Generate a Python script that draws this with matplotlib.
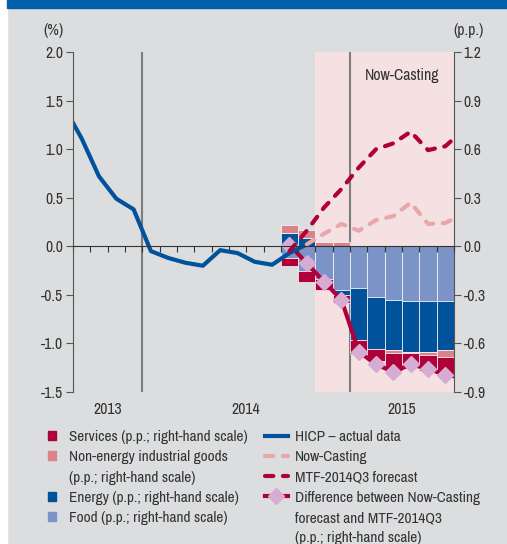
import numpy as np
import matplotlib
matplotlib.use('Agg')  # no display in the sandbox
import matplotlib.pyplot as plt
import matplotlib.transforms as mtransforms
from matplotlib.patches import Rectangle, Patch
from matplotlib.lines import Line2D

plt.rcParams['font.family'] = ['Archivo Narrow', 'Liberation Sans', 'DejaVu Sans']
plt.rcParams['font.size'] = 11.3

# ============================================
# DATA (month index 0 = Sep 2013 ... 21 = Jun 2015)
# ============================================

n_months = 22
year_labels = ['2013', '2014', '2015']
year_centres = [2, 10, 19]
year_breaks = [4, 16]
nowcast_start = 14  # Nov 2014

# HICP actual data (%), Aug 2013 - Oct 2014
hicp_x = np.arange(-1, 14) + 0.5
hicp = [1.43, 1.11, 0.72, 0.49, 0.38, -0.05, -0.12, -0.17, -0.20,
        -0.04, -0.07, -0.16, -0.19, -0.07, 0.02]

# Now-Casting (%), Oct 2014 - Jul 2015
nc_x = np.arange(13, 23) + 0.5
nowcast = [0.02, 0.13, 0.23, 0.16, 0.27, 0.31, 0.45, 0.23, 0.24, 0.33]

# MTF-2014Q3 forecast (%), Sep 2014 - Jul 2015
mtf_x = np.arange(12, 23) + 0.5
mtf = [-0.05, 0.16, 0.40, 0.59, 0.81, 1.00, 1.06, 1.18, 0.99, 1.03, 1.19]

# difference Now-Casting vs MTF (p.p.), Sep 2014 - Jul 2015
diff_x = np.arange(12, 23) + 0.5
diff = [0.01, -0.105, -0.22, -0.33, -0.65, -0.73, -0.775, -0.73,
        -0.755, -0.795, -0.81]

# contributions (p.p.), Sep 2014 - Jun 2015
bar_x = np.arange(12, 22)
food = [-0.075, -0.153, -0.20, -0.272, -0.259, -0.315, -0.334, -0.340, -0.340, -0.340]
energy = [0.084, 0.054, 0.0, -0.031, -0.321, -0.319, -0.309, -0.311, -0.313, -0.302]
neig = [0.045, 0.047, 0.029, 0.025, 0.008, 0.0, -0.019, -0.010, -0.016, -0.039]
services = [-0.048, -0.068, -0.067, -0.05, -0.088, -0.076, -0.109, -0.091, -0.101, -0.12]

left_ticks = [-1.5, -1.0, -0.5, 0.0, 0.5, 1.0, 1.5, 2.0]
right_ticks = [-0.9, -0.6, -0.3, 0.0, 0.3, 0.6, 0.9, 1.2]

# ============================================
# STYLE
# ============================================

bg = '#dcdddf'
c_services = '#b0003a'
c_neig = '#d9828a'
c_energy = '#00529b'
c_food = '#7b93c6'
c_hicp = '#00529b'
c_nc = '#e8a8aa'
c_mtf = '#b0003a'
c_diamond = '#d7acd3'
c_shade = '#f5e1e1'
c_vline = '#7d7d7d'
c_axis = '#555555'
c_text = '#333333'
dash = (0, (2.0, 2.3))

fig = plt.figure(figsize=(5.07, 5.44), dpi=100, facecolor=bg)
fig.patches.append(Rectangle((0, 0), 7 / 507, 1, transform=fig.transFigure,
                             color='white', zorder=0))
fig.patches.append(Rectangle((7 / 507, 536 / 544), 1, 1, transform=fig.transFigure,
                             color='#0060a9', zorder=0))

ax = fig.add_axes([73 / 507, 1 - 392 / 544, (454 - 73) / 507, (392 - 52) / 544])
ax2 = ax.twinx()
ax.set_zorder(ax2.get_zorder() + 1)
ax.patch.set_visible(False)
ax2.patch.set_visible(False)

# ---- right-hand scale: shading, year lines, bars, difference ----
ax2.axvspan(nowcast_start, n_months, color=c_shade, lw=0, zorder=0)
for b in year_breaks:
    ax2.axvline(b, color=c_vline, lw=1.5, zorder=0.5)

pos_base = np.zeros(len(bar_x))
neg_base = np.zeros(len(bar_x))
for vals, col in [(food, c_food), (energy, c_energy), (neig, c_neig), (services, c_services)]:
    vals = np.array(vals)
    bottom = np.where(vals >= 0, pos_base, neg_base)
    ax2.bar(bar_x, vals, width=1, bottom=bottom, align='edge', color=col,
            edgecolor='white', linewidth=0.5, zorder=1)
    pos_base += np.where(vals >= 0, vals, 0)
    neg_base += np.where(vals < 0, vals, 0)

ax2.plot(diff_x, diff, color=c_services, lw=3, zorder=3, marker='D', ms=8,
         mfc=c_diamond, mec=c_diamond, markevery=list(range(10)))

ax2.set_ylim(-0.9, 1.2)
ax2.set_yticks(right_ticks)
ax2.set_yticklabels([f'{v:.1f}' for v in right_ticks])
for s in ['top', 'bottom', 'left']:
    ax2.spines[s].set_visible(False)
ax2.spines['right'].set_color(c_axis)
ax2.tick_params(axis='y', direction='out', length=5, color=c_axis, labelcolor=c_text, pad=2)

# ---- left-hand scale: HICP and forecasts ----
ax.plot(hicp_x, hicp, color=c_hicp, lw=3, solid_joinstyle='round', zorder=2)
ax.plot(nc_x, nowcast, color=c_nc, lw=3, linestyle=dash, dash_capstyle='round', zorder=2)
ax.plot(mtf_x, mtf, color=c_mtf, lw=3, linestyle=dash, dash_capstyle='round', zorder=2)

ax.set_xlim(0, n_months)
ax.set_ylim(-1.5, 2.0)
ax.set_yticks(left_ticks)
ax.set_yticklabels([f'{v:.1f}' for v in left_ticks])
ax.set_xticks(np.arange(0, n_months + 1))
ax.set_xticklabels([])
ax.spines['bottom'].set_position(('data', 0))
ax.spines['bottom'].set_color(c_text)
ax.spines['left'].set_color(c_axis)
ax.spines['top'].set_visible(False)
ax.spines['right'].set_visible(False)
ax.tick_params(axis='y', direction='out', length=5, color=c_axis, labelcolor=c_text, pad=2)
ax.tick_params(axis='x', direction='out', length=4, color=c_text)

trans = mtransforms.blended_transform_factory(ax.transData, ax.transAxes)
for lab, c in zip(year_labels, year_centres):
    ax.text(c, -0.05, lab, transform=trans, ha='center', va='center', color=c_text)

ax.text(19, 1.76, 'Now-Casting', ha='center', va='center', color=c_text)
fig.text(53 / 507, 1 - 31 / 544, '(%)', ha='center', va='center', color=c_text)
fig.text(469 / 507, 1 - 31 / 544, '(p.p.)', ha='center', va='center', color=c_text)

# ---- legends ----
blank = Patch(visible=False)
left_handles = [Patch(color=c_services), Patch(color=c_neig), blank,
                Patch(color=c_energy), Patch(color=c_food)]
left_labels = ['Services (p.p.; right-hand scale)', 'Non-energy industrial goods',
               '(p.p.; right-hand scale)', 'Energy (p.p.; right-hand scale)',
               'Food (p.p.; right-hand scale)']
blank_line = Line2D([], [], visible=False)
right_handles = [Line2D([], [], color=c_hicp, lw=3),
                 Line2D([], [], color=c_nc, lw=3, linestyle=dash, dash_capstyle='round'),
                 Line2D([], [], color=c_mtf, lw=3, linestyle=dash, dash_capstyle='round'),
                 Line2D([], [], color=c_services, lw=3, marker='D', ms=8,
                        mfc=c_diamond, mec=c_diamond),
                 blank_line, blank_line]
right_labels = ['HICP – actual data', 'Now-Casting', 'MTF-2014Q3 forecast',
                'Difference between Now-Casting', 'forecast and MTF-2014Q3',
                '(p.p.; right-hand scale)']

common = dict(loc='upper left', frameon=False, borderpad=0, borderaxespad=0,
              labelspacing=0.41, labelcolor=c_text, fontsize=11)
fig.legend(left_handles, left_labels, bbox_to_anchor=(48 / 507, 1 - 430 / 544),
           handlelength=0.5, handleheight=0.5, handletextpad=0.9, **common)
fig.legend(right_handles, right_labels, bbox_to_anchor=(265 / 507, 1 - 430 / 544),
           handlelength=1.5, handletextpad=0.45, **common)

fig.savefig('out.png', dpi=100, facecolor=fig.get_facecolor())
